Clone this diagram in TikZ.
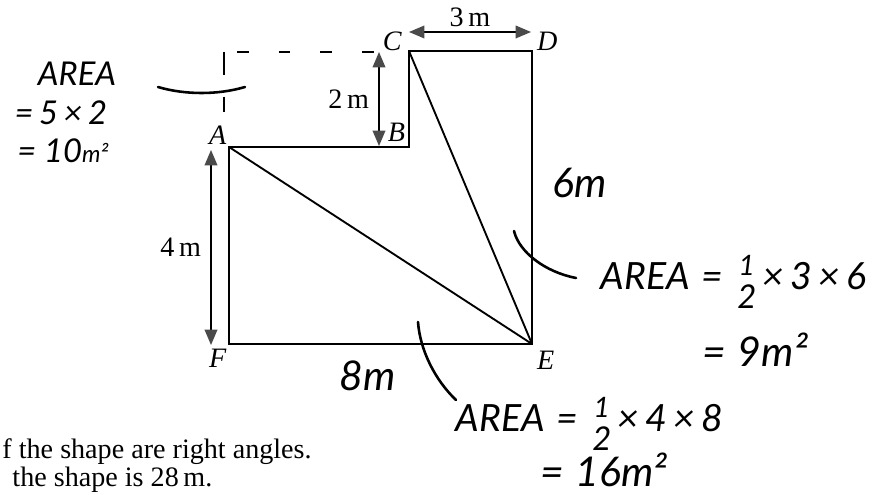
\documentclass[tikz,border=0pt]{standalone}
\usepackage{fontspec}
\setmainfont{Liberation Serif}
\newfontfamily\handfont{Lato}
\usetikzlibrary{arrows.meta,positioning}
\definecolor{tipGray}{HTML}{4A4A4A}
\newcommand{\handhalf}{\raisebox{-0.5em}{\shortstack[c]{{\fontsize{12}{12}\selectfont 1}\\[1pt]{\fontsize{14}{14}\selectfont 2}}}}
\begin{document}
\begin{tikzpicture}[
  x=0.015cm, y=-0.015cm,
  edge/.style={line width=0.8pt},
  dimarr/.style={{Triangle[length=2.3mm,width=1.9mm,color=tipGray]}-{Triangle[length=2.3mm,width=1.9mm,color=tipGray]},
                 line width=0.6pt},
  vlabel/.style={font=\fontsize{12}{14}\selectfont\itshape, inner sep=0pt},
  dimtag/.style={font=\fontsize{12}{14}\selectfont, inner sep=0pt},
  guide/.style={line width=0.8pt},
  hand/.style={font=\handfont\itshape\fontsize{16}{18}\selectfont, inner sep=0pt},
  handbig/.style={font=\handfont\itshape\fontsize{17.5}{20}\selectfont, inner sep=0pt},
  handsmall/.style={font=\handfont\itshape\fontsize{14}{16}\selectfont, inner sep=0pt},
  pen/.style={line width=1.1pt, line cap=round},
  note/.style={font=\fontsize{12}{14}\selectfont, inner sep=0pt, anchor=west}
]
\useasboundingbox (0,0) rectangle (883,495);

\coordinate (A) at (229,147);
\coordinate (B) at (409,147);
\coordinate (C) at (409,51);
\coordinate (D) at (532,51);
\coordinate (E) at (532,344);
\coordinate (F) at (229,344);

\draw[edge] (A) -- (B) -- (C) -- (D) -- (E) -- (F) -- cycle;
\draw[edge] (A) -- (E);
\draw[edge] (C) -- (E);

\node[vlabel, above left=1pt and 1pt of A] (labA) {A};
\node[vlabel, above left=2pt and 1.5pt of B] (labB) {B};
\node[vlabel, above left=0pt and 3pt of C] (labC) {C};
\node[vlabel, above right=0pt and 2pt of D] (labD) {D};
\node[vlabel, below right=3pt and 2pt of E] (labE) {E};
\node[vlabel, below left=2pt and 1pt of F] (labF) {F};

\coordinate (w3a) at (409,32);
\coordinate (w3b) at (531,32);
\coordinate (h2a) at (379,52);
\coordinate (h2b) at (379,146);
\coordinate (h4a) at (211,150);
\coordinate (h4b) at (211,345);

\draw[dimarr] (w3a) -- node[dimtag, above=2pt] (len3) {3\,m} (w3b);
\draw[dimarr] (h2a) -- node[dimtag, left=4pt] (len2) {2\,m} (h2b);
\draw[dimarr] (h4a) -- node[dimtag, left=4pt] (len4) {4\,m} (h4b);

\coordinate (gcorner) at (224,52);
\coordinate (gdown) at (224,112);
\coordinate (gstart) at (237,52);
\coordinate (gend) at (377,52);
\draw[guide, dash pattern=on 10pt off 9pt] (gcorner) -- (gdown);
\draw[guide, dash pattern=on 5pt off 12.8pt] (gstart) -- (gend);

\node[handsmall] (areaL) at (77,74) {AREA};
\node[handsmall] (areaLa) at (61,113) {=\,5\,×\,2};
\node[handsmall, anchor=west] (areaLb) at (17,151) {= 10{\fontsize{10}{10}\selectfont m²}};
\coordinate (arcL) at (158,87);
\coordinate (arcR) at (245,87);
\draw[pen] (arcL) .. controls (185,95) and (218,95) .. (arcR);

\node[handbig] (six) at (580,183) {6m};
\coordinate (p6a) at (514,231);
\coordinate (p6b) at (576,278);
\draw[pen] (p6a) .. controls (519,252) and (545,272) .. (p6b);
\node[hand, anchor=west] (triCD) at (600,282)
  {AREA\hspace{5pt}=\hspace{6pt}\handhalf\,×\,3\,×\,6};
\node[handbig, anchor=west] (triCDres) at (702,350) {=\hspace{5pt}9m²};

\node[handbig] (eight) at (368,376) {8m};
\coordinate (p8a) at (418,322);
\coordinate (p8b) at (456,400);
\draw[pen] (p8a) .. controls (420,350) and (435,380) .. (p8b);
\node[hand, anchor=west] (triAF) at (455,424)
  {AREA\hspace{5pt}=\hspace{6pt}\handhalf\,×\,4\,×\,8};
\node[handbig, anchor=west] (triAFres) at (540,470) {=\hspace{5pt}16m²};

\node[note] (note1) at (2,452) {f the shape are right angles.};
\node[note] (note2) at (12,480) {the shape is 28\,m.};
\end{tikzpicture}
\end{document}
